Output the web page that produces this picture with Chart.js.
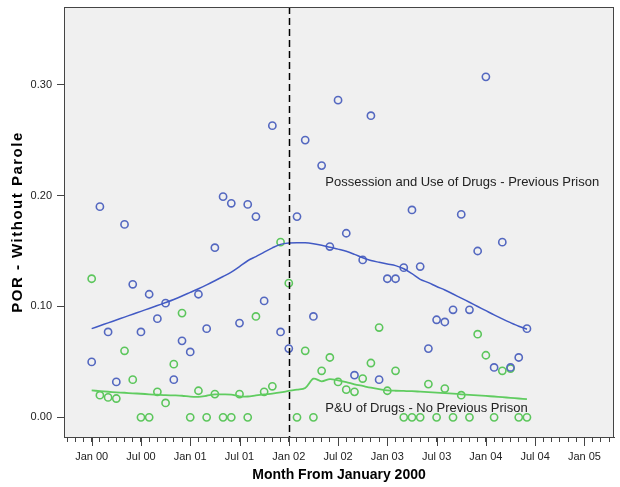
<!DOCTYPE html>
<html>
<head>
<meta charset="utf-8">
<title>POR - Without Parole</title>
<script src="https://cdn.jsdelivr.net/npm/chart.js@4/dist/chart.umd.min.js"></script>
<style>
  html, body { margin: 0; padding: 0; background: #fff; }
  #wrap { width: 620px; height: 487px; position: relative; }
</style>
</head>
<body>
<div id="wrap"><canvas id="chart" width="620" height="487"></canvas></div>
<script>
'use strict';

// --- Data ---
const months = [0, 1, 2, 3, 4, 5, 6, 7, 8, 9, 10, 11, 12, 13, 14, 15, 16, 17, 18, 19, 20, 21, 22, 23, 24, 25, 26,
  27, 28, 29, 30, 31, 32, 33, 34, 35, 36, 37, 38, 39, 40, 41, 42, 43, 44, 45, 46, 47, 48, 49, 50, 51, 52, 53];

// Possession and Use of Drugs - Previous Prison
const previousPrison = [0.050, 0.190, 0.077, 0.032, 0.174, 0.120, 0.077, 0.111, 0.089, 0.103,
  0.034, 0.069, 0.059, 0.111, 0.080, 0.153, 0.199, 0.193, 0.085, 0.192,
  0.181, 0.105, 0.263, 0.077, 0.062, 0.181, 0.250, 0.091, 0.227, 0.154,
  0.286, 0.166, 0.038, 0.142, 0.272, 0.034, 0.125, 0.125, 0.135, 0.187,
  0.136, 0.062, 0.088, 0.086, 0.097, 0.183, 0.097, 0.150, 0.307, 0.045,
  0.158, 0.045, 0.054, 0.080];

// P&U of Drugs - No Previous Prison
const noPreviousPrison = [0.125, 0.020, 0.018, 0.017, 0.060, 0.034, 0, 0, 0.023, 0.013,
  0.048, 0.094, 0, 0.024, 0, 0.021, 0, 0, 0.021, 0,
  0.091, 0.023, 0.028, 0.158, 0.121, 0, 0.060, 0, 0.042, 0.054,
  0.032, 0.025, 0.023, 0.035, 0.049, 0.081, 0.024, 0.042, 0, 0,
  0, 0.030, 0, 0.026, 0, 0.020, 0, 0.075, 0.056, 0,
  0.042, 0.044, 0, 0];

// smoothed fit lines
const previousPrisonFit = [0.0800, 0.0826, 0.0852, 0.0878, 0.0904, 0.0930, 0.0956, 0.0982, 0.1008, 0.1035,
  0.1063, 0.1094, 0.1127, 0.1160, 0.1195, 0.1232, 0.1270, 0.1310, 0.1360, 0.1412,
  0.1450, 0.1490, 0.1528, 0.1560, 0.1572, 0.1575, 0.1574, 0.1565, 0.1552, 0.1534,
  0.1517, 0.1498, 0.1470, 0.1439, 0.1415, 0.1398, 0.1382, 0.1368, 0.1340, 0.1295,
  0.1245, 0.1215, 0.1180, 0.1148, 0.1112, 0.1075, 0.1038, 0.1000, 0.0962, 0.0924,
  0.0888, 0.0854, 0.0822, 0.0795];
const noPreviousPrisonFit = [0.0243, 0.0237, 0.0231, 0.0226, 0.0222, 0.0217, 0.0213, 0.0208, 0.0204, 0.0200,
  0.0198, 0.0195, 0.0187, 0.0185, 0.0195, 0.0207, 0.0207, 0.0205, 0.0190, 0.0188,
  0.0198, 0.0207, 0.0215, 0.0225, 0.0238, 0.0250, 0.0265, 0.0349, 0.0325, 0.0345,
  0.0333, 0.0318, 0.0298, 0.0283, 0.0268, 0.0255, 0.0244, 0.0240, 0.0238, 0.0236,
  0.0232, 0.0228, 0.0223, 0.0219, 0.0214, 0.0208, 0.0203, 0.0198, 0.0193, 0.0188,
  0.0182, 0.0176, 0.0170, 0.0165];

const tickMonths = [0, 6, 12, 18, 24, 30, 36, 42, 48, 54, 60];
const tickLabels = ['Jan 00', 'Jul 00', 'Jan 01', 'Jul 01', 'Jan 02', 'Jul 02', 'Jan 03', 'Jul 03', 'Jan 04', 'Jul 04', 'Jan 05'];
const yTicks = [0, 0.1, 0.2, 0.3];
const releaseMonth = 24; // dashed reference line (Jan 02)

const seriesLabels = ['Possession and Use of Drugs - Previous Prison', 'P&U of Drugs - No Previous Prison'];
const yTitle = 'POR - Without Parole';

// --- Styles ---
const FONT = "'Liberation Sans', Arial, sans-serif";
const BLUE = 'rgb(84, 104, 192)';
const BLUE_LINE = 'rgb(66, 90, 196)';
const GREEN = 'rgb(92, 198, 92)';
const GREEN_LINE = 'rgb(96, 204, 96)';
const AXIS = '#444';

const toPoints = (ys) => months.map((m, i) => ({ x: m, y: ys[i] }));

// background + frame, reference line, major ticks, text labels
const frame = {
  id: 'frame',
  beforeDraw(chart) {
    const { ctx, chartArea: a } = chart;
    ctx.save();
    ctx.fillStyle = '#f0f0f0';
    ctx.fillRect(a.left, a.top, a.right - a.left, a.bottom - a.top);
    ctx.restore();
  },
  afterDatasetsDraw(chart) {
    const { ctx, chartArea: a, scales: { x, y } } = chart;
    ctx.save();
    // dashed line at release month
    const px = Math.round(x.getPixelForValue(releaseMonth)) + 0.5;
    ctx.strokeStyle = '#000';
    ctx.lineWidth = 1.5;
    ctx.setLineDash([7, 4]);
    ctx.beginPath();
    ctx.moveTo(px, a.top);
    ctx.lineTo(px, a.bottom);
    ctx.stroke();
    ctx.setLineDash([]);

    // series labels
    ctx.fillStyle = '#222';
    ctx.font = '13px ' + FONT;
    ctx.textBaseline = 'middle';
    ctx.fillText(seriesLabels[0], x.getPixelForValue(28.45), y.getPixelForValue(0.212));
    ctx.fillText(seriesLabels[1], x.getPixelForValue(28.45), y.getPixelForValue(0.0083));

    // frame
    ctx.strokeStyle = AXIS;
    ctx.lineWidth = 1;
    ctx.strokeRect(a.left + 0.5, a.top + 0.5, a.right - a.left - 1, a.bottom - a.top);

    // longer marks for labelled months
    ctx.beginPath();
    tickMonths.forEach(m => {
      const tx = Math.round(x.getPixelForValue(m)) + 0.5;
      ctx.moveTo(tx, a.bottom);
      ctx.lineTo(tx, a.bottom + 9);
    });
    ctx.stroke();

    // y axis title (slightly spaced, as in the reference)
    ctx.translate(18, (a.top + a.bottom) / 2);
    ctx.rotate(-Math.PI / 2);
    ctx.fillStyle = '#000';
    ctx.font = 'bold 15px ' + FONT;
    ctx.letterSpacing = '1.5px';
    ctx.textAlign = 'center';
    ctx.textBaseline = 'middle';
    ctx.fillText(yTitle, 0, 0);
    ctx.restore();
  }
};

const chart = new Chart(document.getElementById('chart'), {
  type: 'scatter',
  data: {
    datasets: [
      {
        label: seriesLabels[0] + ' fit', type: 'line', data: toPoints(previousPrisonFit),
        borderColor: BLUE_LINE, borderWidth: 1.5, pointRadius: 0, fill: false, tension: 0.3
      },
      {
        label: seriesLabels[1] + ' fit', type: 'line', data: toPoints(noPreviousPrisonFit),
        borderColor: GREEN_LINE, borderWidth: 1.8, pointRadius: 0, fill: false, tension: 0.3
      },
      {
        label: seriesLabels[0], data: toPoints(previousPrison),
        borderColor: BLUE, backgroundColor: 'rgba(0,0,0,0)', pointRadius: 3.6, pointBorderWidth: 1.6
      },
      {
        label: seriesLabels[1], data: toPoints(noPreviousPrison),
        borderColor: GREEN, backgroundColor: 'rgba(0,0,0,0)', pointRadius: 3.6, pointBorderWidth: 1.6
      }
    ]
  },
  options: {
    responsive: false,
    devicePixelRatio: 1,
    animation: false,
    layout: { padding: { top: 7, right: 6, left: 0, bottom: 0 } },
    plugins: { legend: { display: false }, tooltip: { enabled: false } },
    scales: {
      x: {
        type: 'linear', min: -3.37, max: 63.6,
        afterBuildTicks: (s) => {
          const t = [];
          for (let m = -3; m <= 63; m++) t.push({ value: m });
          s.ticks = t;
        },
        afterFit: (s) => { s.height = 50; s.paddingLeft = 0; s.paddingRight = 0; },
        grid: { drawOnChartArea: false, tickLength: 5, tickColor: AXIS, color: AXIS },
        border: { color: AXIS },
        ticks: {
          autoSkip: false, maxRotation: 0, padding: 8, color: '#222',
          font: { family: FONT, size: 11 },
          callback: (v) => { const i = tickMonths.indexOf(v); return i >= 0 ? tickLabels[i] : ''; }
        },
        title: {
          display: true, text: 'Month From January 2000', color: '#000',
          font: { family: FONT, size: 14, weight: 'bold' }, padding: { top: 0, bottom: 3 }
        }
      },
      y: {
        min: -0.0177, max: 0.37,
        afterBuildTicks: (s) => { s.ticks = yTicks.map(v => ({ value: v })); },
        afterFit: (s) => { s.width = 64; s.paddingTop = 0; s.paddingBottom = 0; },
        grid: { drawOnChartArea: false, tickLength: 7, tickColor: AXIS, color: AXIS },
        border: { color: AXIS },
        ticks: {
          padding: 5, color: '#222', font: { family: FONT, size: 11 },
          callback: (v) => v.toFixed(2)
        },
        title: { display: false }
      }
    }
  },
  plugins: [frame]
});
</script>
</body>
</html>
